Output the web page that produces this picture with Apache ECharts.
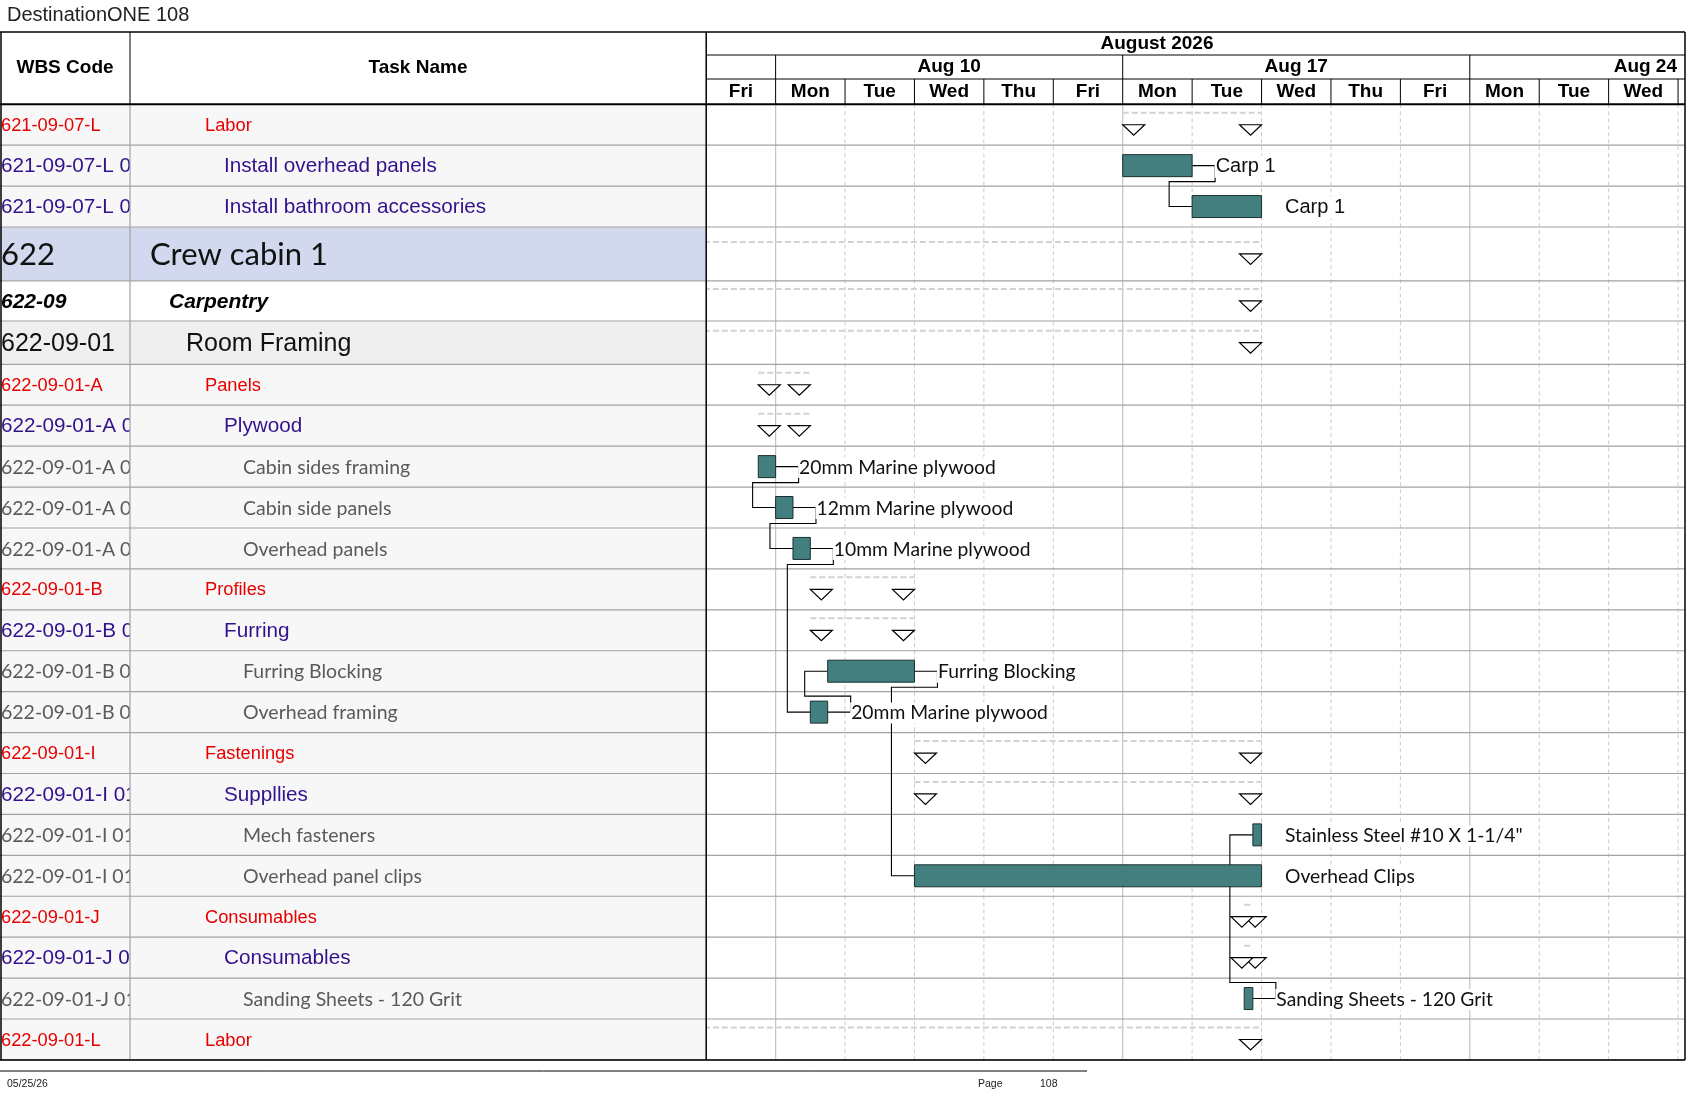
<!DOCTYPE html>
<html>
<head>
<meta charset="utf-8">
<title>DestinationONE 108</title>
<script src="https://cdn.jsdelivr.net/npm/echarts@6/dist/echarts.min.js"></script>
<style>
html, body { margin: 0; padding: 0; background: #fff; }
#main { width: 1687px; height: 1097px; }
</style>
</head>
<body>
<div id="main"></div>
<script>
// ---------- data ----------
var wbsCodes = [
    '621-09-07-L', '621-09-07-L 01', '621-09-07-L 02',
    '622', '622-09', '622-09-01',
    '622-09-01-A', '622-09-01-A 01', '622-09-01-A 01-001', '622-09-01-A 01-002', '622-09-01-A 01-003',
    '622-09-01-B', '622-09-01-B 01', '622-09-01-B 01-001', '622-09-01-B 01-002',
    '622-09-01-I', '622-09-01-I 01', '622-09-01-I 01-001', '622-09-01-I 01-002',
    '622-09-01-J', '622-09-01-J 01', '622-09-01-J 01-001',
    '622-09-01-L'
];
var taskNames = [
    'Labor', 'Install overhead panels', 'Install bathroom accessories',
    'Crew cabin 1', 'Carpentry', 'Room Framing',
    'Panels', 'Plywood', 'Cabin sides framing', 'Cabin side panels', 'Overhead panels',
    'Profiles', 'Furring', 'Furring Blocking', 'Overhead framing',
    'Fastenings', 'Suppllies', 'Mech fasteners', 'Overhead panel clips',
    'Consumables', 'Consumables', 'Sanding Sheets - 120 Grit',
    'Labor'
];
var outlineLevels = [4, 5, 5, 1, 2, 3, 4, 5, 6, 6, 6, 4, 5, 6, 6, 4, 5, 6, 6, 4, 5, 6, 4];
var isSummary = [1, 0, 0, 1, 1, 1, 1, 1, 0, 0, 0, 1, 1, 0, 0, 1, 1, 0, 0, 1, 1, 0, 1];
// start / finish in working days from Fri Aug 7 2026 08:00 (weekends skipped)
var taskStart  = [6, 6, 7, -20, -20, -20, 0.75, 0.75, 0.75, 1, 1.25, 1.5, 1.5, 1.75, 1.5, 3, 3, 7.875, 3, 7.75, 7.75, 7.75, -20];
var taskFinish = [8, 7, 8, 8, 8, 8, 1.5, 1.5, 1, 1.25, 1.5, 3, 3, 3, 1.75, 8, 8, 8, 8, 7.875, 7.875, 7.875, 8];
var barLabels = [
    '', 'Carp 1', 'Carp 1', '', '', '', '', '',
    '20mm Marine plywood', '12mm Marine plywood', '10mm Marine plywood',
    '', '', 'Furring Blocking', '20mm Marine plywood',
    '', '', 'Stainless Steel #10 X 1-1/4"', 'Overhead Clips',
    '', '', 'Sanding Sheets - 120 Grit', ''
];
// finish-to-start links [predecessor row, successor row]
var links = [[1, 2], [8, 9], [9, 10], [10, 14], [14, 13], [13, 18], [21, 17]];
var dayLabels = ['Fri', 'Mon', 'Tue', 'Wed', 'Thu', 'Fri', 'Mon', 'Tue', 'Wed', 'Thu', 'Fri', 'Mon', 'Tue', 'Wed', 'Thu'];
var weekLabels = ['Aug 10', 'Aug 17', 'Aug 24'];
var weekStarts = [1, 6, 11];
var monthLabel = 'August 2026';

// ---------- layout ----------
var COL_WBS = 130, COL_GANTT = 706.2, RIGHT = 1685;
var HEAD_TOP = 32, HEAD_MONTH = 55, HEAD_WEEK = 79, BODY_TOP = 104.3;
var BAR_H = 22;
var rowH = [40.9, 40.9, 40.9, 53.8, 40.2, 43.3];
while (rowH.length < taskNames.length) rowH.push(40.92);
var rowTop = [], acc = 0;
rowH.forEach(function (h) { rowTop.push(acc); acc += h; });
var TOTAL_H = acc;
var BODY_BOTTOM = BODY_TOP + TOTAL_H;

var SANS = '"Liberation Sans", Arial, sans-serif';
var CALI = 'Lato, "Open Sans", sans-serif';
var levelStyle = {
    1: { size: 31, family: CALI, weight: 'normal', style: 'normal', color: '#111', indent: 150, cell: '#d2d9ef' },
    2: { size: 21, family: SANS, weight: 'bold', style: 'italic', color: '#000', indent: 169, cell: '#ffffff' },
    3: { size: 25, family: SANS, weight: 'normal', style: 'normal', color: '#111', indent: 186, cell: '#efefef' },
    4: { size: 18.3, family: SANS, weight: 'normal', style: 'normal', color: '#e60000', indent: 205, cell: '#f7f7f7' },
    5: { size: 20.7, family: SANS, weight: 'normal', style: 'normal', color: '#34118c', indent: 224, cell: '#f7f7f7' },
    6: { size: 19.5, family: CALI, weight: 'normal', style: 'normal', color: '#5a5a5a', indent: 243, cell: '#f7f7f7' }
};

function txt(x, y, text, o) {
    var st = {
        text: text, fill: o.color, fontSize: o.size, fontFamily: o.family,
        fontWeight: o.weight || 'normal', fontStyle: o.style || 'normal',
        align: o.align || 'left', textAlign: o.align || 'left',
        verticalAlign: 'middle', textVerticalAlign: 'middle'
    };
    if (o.boxBg) {
        st.backgroundColor = o.boxBg;
        st.padding = [1, 2, 1, 1];
    }
    return { type: 'text', x: x, y: y, silent: true, style: st };
}
function line(x1, y1, x2, y2, stroke, w, dash) {
    return {
        type: 'line', silent: true,
        shape: { x1: x1, y1: y1, x2: x2, y2: y2 },
        style: { stroke: stroke, lineWidth: w || 1, lineDash: dash || null }
    };
}

var rowIdx = taskNames.map(function (n, i) { return [0, rowTop[i], i]; });

// table cells (WBS + task name)
function renderTable(params, api) {
    var i = api.value(2);
    var y0 = api.coord([0, rowTop[i]])[1];
    var y1 = api.coord([0, rowTop[i] + rowH[i]])[1];
    var cy = (y0 + y1) / 2;
    var st = levelStyle[outlineLevels[i]];
    return {
        type: 'group',
        children: [
            { type: 'rect', shape: { x: 0, y: y0, width: COL_WBS, height: y1 - y0 }, style: { fill: st.cell } },
            txt(1, cy + 1, wbsCodes[i], st),
            // task cell drawn after the code so long codes get cut at the column edge
            { type: 'rect', shape: { x: COL_WBS, y: y0, width: COL_GANTT - COL_WBS, height: y1 - y0 }, style: { fill: st.cell } },
            txt(st.indent, cy + 1, taskNames[i], st)
        ]
    };
}

function renderRowLines(params, api) {
    var i = api.value(2);
    var y0 = api.coord([0, rowTop[i]])[1];
    var y1 = api.coord([0, rowTop[i] + rowH[i]])[1];
    return {
        type: 'group',
        children: [
            line(0, y1, RIGHT, y1, '#a2a2a2', 1.2),
            line(COL_WBS, y0, COL_WBS, y1, '#a2a2a2', 1.2)
        ]
    };
}

// day header cells + body grid lines
function renderDays(params, api) {
    var d = api.value(0);
    var x0 = api.coord([d, 0])[0];
    var x1 = Math.min(api.coord([d + 1, 0])[0], RIGHT);
    var kids = [];
    if (x1 - x0 > 30) {
        kids.push(txt((x0 + x1) / 2, 92, dayLabels[d], { size: 19, family: SANS, weight: 'bold', color: '#000', align: 'center' }));
    }
    if (d > 0) {
        kids.push(line(x0, HEAD_WEEK, x0, BODY_TOP, '#000', 1));
        if (dayLabels[d] === 'Mon') {
            kids.push(line(x0, BODY_TOP, x0, BODY_BOTTOM, '#c4c4c4', 1.2));
        } else {
            kids.push(line(x0, BODY_TOP, x0, BODY_BOTTOM, '#cacaca', 1, [4, 3]));
        }
    }
    return { type: 'group', children: kids };
}

function renderWeeks(params, api) {
    var k = params.dataIndex;
    var x0 = api.coord([api.value(0), 0])[0];
    var x1 = api.coord([api.value(0) + 5, 0])[0];
    var kids = [line(x0, HEAD_MONTH, x0, HEAD_WEEK, '#000', 1)];
    var o = { size: 19, family: SANS, weight: 'bold', color: '#000', align: 'center' };
    if (x1 <= RIGHT) {
        kids.push(txt((x0 + x1) / 2, 67, weekLabels[k], o));
    } else {
        o.align = 'right';
        kids.push(txt(RIGHT - 8, 67, weekLabels[k], o));
    }
    return { type: 'group', children: kids };
}

// summary rows: dashed span + start/finish triangles
function renderSummary(params, api) {
    var i = api.value(2);
    var cy = api.coord([0, rowTop[i] + rowH[i] / 2])[1];
    var x0 = api.coord([api.value(0), 0])[0];
    var x1 = api.coord([api.value(1), 0])[0];
    var tw = 22, th = 10.5;
    var tri = function (a) {
        return {
            type: 'polygon', silent: true,
            shape: { points: [[a, cy], [a + tw, cy], [a + tw / 2, cy + th]] },
            style: { fill: '#fff', stroke: '#000', lineWidth: 1.2 }
        };
    };
    return {
        type: 'group',
        children: [
            line(x0, cy - 12, x1, cy - 12, '#d2d2d2', 2, [6, 3]),
            tri(x0),
            tri(x1 - tw)
        ]
    };
}

function renderLink(params, api) {
    var a = api.value(0), b = api.value(1);
    var pe = api.coord([taskFinish[a], rowTop[a] + rowH[a] / 2]);
    var ss = api.coord([taskStart[b], rowTop[b] + rowH[b] / 2]);
    var yMid = ss[1] > pe[1] ? pe[1] + BAR_H / 2 + 5 : pe[1] - BAR_H / 2 - 5;
    var xr = pe[0] + 23, xl = ss[0] - 23;
    return {
        type: 'polyline', silent: true,
        shape: { points: [pe, [xr, pe[1]], [xr, yMid], [xl, yMid], [xl, ss[1]], ss] },
        style: { stroke: '#000', lineWidth: 1.1, fill: null }
    };
}

function renderBar(params, api) {
    var i = api.value(2);
    var cy = api.coord([0, rowTop[i] + rowH[i] / 2])[1];
    var x0 = api.coord([api.value(0), 0])[0];
    var x1 = api.coord([api.value(1), 0])[0];
    var lab = outlineLevels[i] === 5
        ? { size: 20, family: SANS, color: '#111', boxBg: '#fff' }
        : { size: 19.3, family: CALI, color: '#111', boxBg: '#fff' };
    return {
        type: 'group',
        children: [
            {
                type: 'rect',
                shape: { x: x0, y: cy - BAR_H / 2, width: x1 - x0, height: BAR_H },
                style: { fill: '#437f7f', stroke: '#1c2f2f', lineWidth: 1 }
            },
            txt(x1 + 22.5, cy + 1, barLabels[i], lab)
        ]
    };
}

var summaryData = [], barData = [];
taskNames.forEach(function (n, i) {
    if (isSummary[i]) summaryData.push([taskStart[i], taskFinish[i], i]);
    else barData.push([taskStart[i], taskFinish[i], i]);
});

var chart = echarts.init(document.getElementById('main'), null, { renderer: 'canvas' });
chart.setOption({
    animation: false,
    backgroundColor: '#fff',
    grid: { left: COL_GANTT, top: BODY_TOP, width: RIGHT - COL_GANTT, height: TOTAL_H },
    xAxis: {
        type: 'value', min: 0, max: 14.1,
        axisLine: { show: false }, axisTick: { show: false }, axisLabel: { show: false }, splitLine: { show: false }
    },
    yAxis: {
        type: 'value', min: 0, max: TOTAL_H, inverse: true,
        axisLine: { show: false }, axisTick: { show: false }, axisLabel: { show: false }, splitLine: { show: false }
    },
    series: [
        { type: 'custom', name: 'table', z: 1, clip: false, renderItem: renderTable, data: rowIdx },
        { type: 'custom', name: 'days', z: 2, clip: false, renderItem: renderDays,
          data: dayLabels.map(function (l, d) { return [d]; }) },
        { type: 'custom', name: 'weeks', z: 2, clip: false, renderItem: renderWeeks,
          data: weekStarts.map(function (s) { return [s]; }) },
        { type: 'custom', name: 'rows', z: 3, clip: false, renderItem: renderRowLines, data: rowIdx },
        { type: 'custom', name: 'summary', z: 4, clip: true, renderItem: renderSummary, data: summaryData },
        { type: 'custom', name: 'links', z: 5, clip: false, renderItem: renderLink, data: links },
        { type: 'custom', name: 'tasks', z: 6, clip: false, renderItem: renderBar, data: barData }
    ],
    graphic: [
        { type: 'text', left: 7, top: 5, z: 20,
          style: { text: 'DestinationONE 108', font: '20px ' + SANS, fill: '#222' } },
        { type: 'text', z: 20, style: { x: 65, y: 68, text: 'WBS Code', font: 'bold 19px ' + SANS, fill: '#000', textAlign: 'center', textVerticalAlign: 'middle' } },
        { type: 'text', z: 20, style: { x: 418, y: 68, text: 'Task Name', font: 'bold 19px ' + SANS, fill: '#000', textAlign: 'center', textVerticalAlign: 'middle' } },
        { type: 'text', z: 20, style: { x: 1157, y: 44, text: monthLabel, font: 'bold 19px ' + SANS, fill: '#000', textAlign: 'center', textVerticalAlign: 'middle' } },
        // frame
        { type: 'line', z: 20, shape: { x1: 0, y1: HEAD_TOP, x2: RIGHT, y2: HEAD_TOP }, style: { stroke: '#000', lineWidth: 1.5 } },
        { type: 'line', z: 20, shape: { x1: 0, y1: BODY_TOP, x2: RIGHT, y2: BODY_TOP }, style: { stroke: '#000', lineWidth: 2 } },
        { type: 'line', z: 20, shape: { x1: 0, y1: BODY_BOTTOM, x2: RIGHT, y2: BODY_BOTTOM }, style: { stroke: '#000', lineWidth: 1.5 } },
        { type: 'line', z: 20, shape: { x1: 1, y1: HEAD_TOP, x2: 1, y2: BODY_BOTTOM }, style: { stroke: '#000', lineWidth: 1.5 } },
        { type: 'line', z: 20, shape: { x1: COL_WBS, y1: HEAD_TOP, x2: COL_WBS, y2: BODY_TOP }, style: { stroke: '#000', lineWidth: 1 } },
        { type: 'line', z: 20, shape: { x1: COL_GANTT, y1: HEAD_TOP, x2: COL_GANTT, y2: BODY_BOTTOM }, style: { stroke: '#000', lineWidth: 1.5 } },
        { type: 'line', z: 20, shape: { x1: RIGHT, y1: HEAD_TOP, x2: RIGHT, y2: BODY_BOTTOM }, style: { stroke: '#000', lineWidth: 1.5 } },
        { type: 'line', z: 20, shape: { x1: COL_GANTT, y1: HEAD_MONTH, x2: RIGHT, y2: HEAD_MONTH }, style: { stroke: '#000', lineWidth: 1 } },
        { type: 'line', z: 20, shape: { x1: COL_GANTT, y1: HEAD_WEEK, x2: RIGHT, y2: HEAD_WEEK }, style: { stroke: '#000', lineWidth: 1 } },
        // footer
        { type: 'line', z: 20, shape: { x1: 0, y1: 1071, x2: 1087, y2: 1071 }, style: { stroke: '#000', lineWidth: 1 } },
        { type: 'text', z: 20, style: { x: 7, y: 1084, text: '05/25/26', font: '10.5px ' + SANS, fill: '#222', textVerticalAlign: 'middle' } },
        { type: 'text', z: 20, style: { x: 978, y: 1084, text: 'Page', font: '10.5px ' + SANS, fill: '#222', textVerticalAlign: 'middle' } },
        { type: 'text', z: 20, style: { x: 1040, y: 1084, text: '108', font: '10.5px ' + SANS, fill: '#222', textVerticalAlign: 'middle' } }
    ]
});
</script>
</body>
</html>
